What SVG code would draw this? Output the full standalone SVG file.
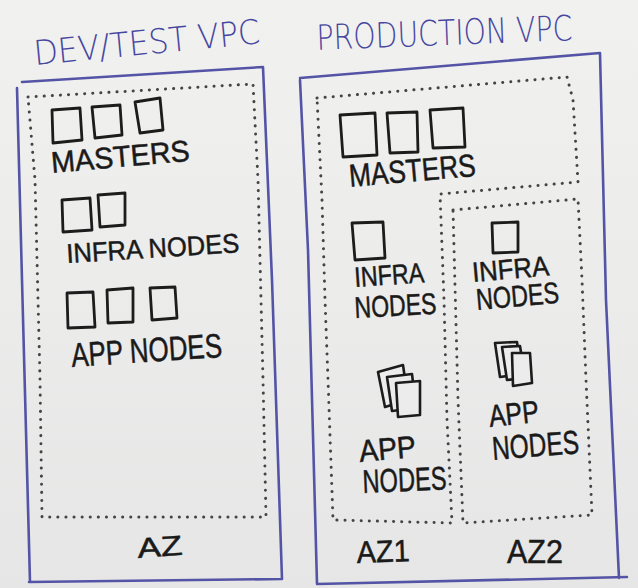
<svg xmlns="http://www.w3.org/2000/svg" width="638" height="588" viewBox="0 0 638 588">
  <defs>
    <linearGradient id="board" x1="0" y1="0" x2="0" y2="1">
      <stop offset="0" stop-color="#f1f1f0"/>
      <stop offset="1" stop-color="#e6e6e6"/>
    </linearGradient>
  </defs>
  <style>
    .vpc { fill: none; stroke: #5454a6; stroke-width: 2.6; stroke-linejoin: round; stroke-linecap: round; }
    .zone { fill: none; stroke: #444; stroke-width: 3; stroke-dasharray: 0.1 8; stroke-linecap: round; stroke-linejoin: round; }
    .box { fill: none; stroke: #1c1c1c; stroke-width: 2.8; stroke-linejoin: round; }
    .card { fill: #ececec; stroke: #1c1c1c; stroke-width: 2.6; stroke-linejoin: round; }
    .title { font-family: "DejaVu Sans", "Liberation Sans", sans-serif; fill: #4646a0; font-weight: 300; }
    .lbl { font-family: "Liberation Sans", "DejaVu Sans", sans-serif; fill: #1a1a1a; stroke: #1a1a1a; stroke-width: 0.5; }
  </style>

  <rect width="638" height="588" fill="url(#board)"/>

  <!-- Dev/Test VPC -->
  <g id="devtest-vpc">
    <text class="title" x="35" y="65" font-size="34" textLength="227" lengthAdjust="spacingAndGlyphs" transform="rotate(-5.5 35 65)">DEV/TEST VPC</text>
    <path class="vpc" d="M22,82 L263,67 M17,88 L22,280 L30,582 M263,67 L272,280 L282,579 M29,582 L282,579"/>
  </g>

  <!-- Production VPC -->
  <g id="production-vpc">
    <text class="title" x="317" y="50" font-size="35" textLength="256" lengthAdjust="spacingAndGlyphs" transform="rotate(-2.2 317 50)">PRODUCTION VPC</text>
    <path class="vpc" d="M300,78 L600,53 M300,80 L308,250 L317,584 M600,53 L606,300 L619,578 M317,584 L627,577"/>
  </g>

  <!-- Availability zones -->
  <g id="az-dev">
    <path class="zone" d="M28,97 L253,84 L258,180 L263,380 L266,517 L42,517 L40,380 L35,180 Z"/>
    <text class="lbl" x="138" y="558" font-size="28" textLength="45" lengthAdjust="spacingAndGlyphs" transform="rotate(-4 138 558)">AZ</text>
  </g>

  <g id="az1">
    <path class="zone" d="M317,98 L567,77 L573,100 L578,182 L440,194 L444,300 L447,420 L452,523 L333,520 L328,380 L325,300 L322,200 Z"/>
    <text class="lbl" x="357" y="563" font-size="31" textLength="53" lengthAdjust="spacingAndGlyphs" transform="rotate(-2 357 563)">AZ1</text>
  </g>

  <g id="az2">
    <path class="zone" d="M453,210 L578,199 L582,280 L586,380 L592,515 L463,523 L458,400 Z"/>
    <text class="lbl" x="507" y="563" font-size="34" textLength="56" lengthAdjust="spacingAndGlyphs">AZ2</text>
  </g>

  <!-- Dev/Test nodes -->
  <g id="dev-masters">
    <polygon class="box" points="52,110 80,108 82,140 53,143"/>
    <polygon class="box" points="92,107 120,105 122,135 95,138"/>
    <polygon class="box" points="135,102 160,98 163,130 140,133"/>
    <text class="lbl" x="52" y="173" font-size="30" textLength="139" lengthAdjust="spacingAndGlyphs" transform="rotate(-5 52 173)">MASTERS</text>
  </g>

  <g id="dev-infra">
    <polygon class="box" points="62,200 90,198 92,230 63,232"/>
    <polygon class="box" points="98,195 125,193 125,225 100,227"/>
    <text class="lbl" x="67" y="263" font-size="27" textLength="173" lengthAdjust="spacingAndGlyphs" transform="rotate(-3.6 67 263)">INFRA NODES</text>
  </g>

  <g id="dev-app">
    <polygon class="box" points="67,293 93,292 95,327 68,328"/>
    <polygon class="box" points="107,290 133,288 133,322 108,323"/>
    <polygon class="box" points="150,288 175,287 177,318 152,320"/>
    <text class="lbl" x="72" y="367" font-size="34" textLength="151" lengthAdjust="spacingAndGlyphs" transform="rotate(-3.8 72 367)">APP NODES</text>
  </g>

  <!-- Production nodes -->
  <g id="prod-masters">
    <polygon class="box" points="340,115 375,113 377,155 343,157"/>
    <polygon class="box" points="387,113 417,112 418,152 390,153"/>
    <polygon class="box" points="430,110 463,108 465,147 433,148"/>
    <text class="lbl" x="350" y="187" font-size="32" textLength="127" lengthAdjust="spacingAndGlyphs" transform="rotate(-5 350 187)">MASTERS</text>
  </g>

  <g id="az1-infra">
    <polygon class="box" points="352,223 383,222 385,258 355,260"/>
    <text class="lbl" x="355" y="287" font-size="28" textLength="70" lengthAdjust="spacingAndGlyphs" transform="rotate(-4 355 287)">INFRA</text>
    <text class="lbl" x="355" y="318" font-size="30" textLength="82" lengthAdjust="spacingAndGlyphs" transform="rotate(-3 355 318)">NODES</text>
  </g>

  <g id="az2-infra">
    <polygon class="box" points="492,223 518,222 518,252 493,253"/>
    <text class="lbl" x="473" y="282" font-size="28" textLength="77" lengthAdjust="spacingAndGlyphs" transform="rotate(-5 473 282)">INFRA</text>
    <text class="lbl" x="477" y="310" font-size="30" textLength="83" lengthAdjust="spacingAndGlyphs" transform="rotate(-5 477 310)">NODES</text>
  </g>

  <g id="az1-app">
    <polygon class="card" points="378,372 403,365 408,400 385,407"/>
    <polygon class="card" points="387,377 412,374 416,408 392,411"/>
    <polygon class="card" points="396,383 420,381 420,415 398,417"/>
    <text class="lbl" x="360" y="462" font-size="31" textLength="57" lengthAdjust="spacingAndGlyphs" transform="rotate(-5 360 462)">APP</text>
    <text class="lbl" x="363" y="493" font-size="33" textLength="84" lengthAdjust="spacingAndGlyphs" transform="rotate(-2.5 363 493)">NODES</text>
  </g>

  <g id="az2-app">
    <polygon class="card" points="495,343 517,342 521,374 500,377"/>
    <polygon class="card" points="502,347 520,346 525,378 507,380"/>
    <polygon class="card" points="512,353 530,353 532,383 513,386"/>
    <text class="lbl" x="490" y="427" font-size="31" textLength="50" lengthAdjust="spacingAndGlyphs" transform="rotate(-6 490 427)">APP</text>
    <text class="lbl" x="493" y="460" font-size="33" textLength="87" lengthAdjust="spacingAndGlyphs" transform="rotate(-4.5 493 460)">NODES</text>
  </g>
</svg>
